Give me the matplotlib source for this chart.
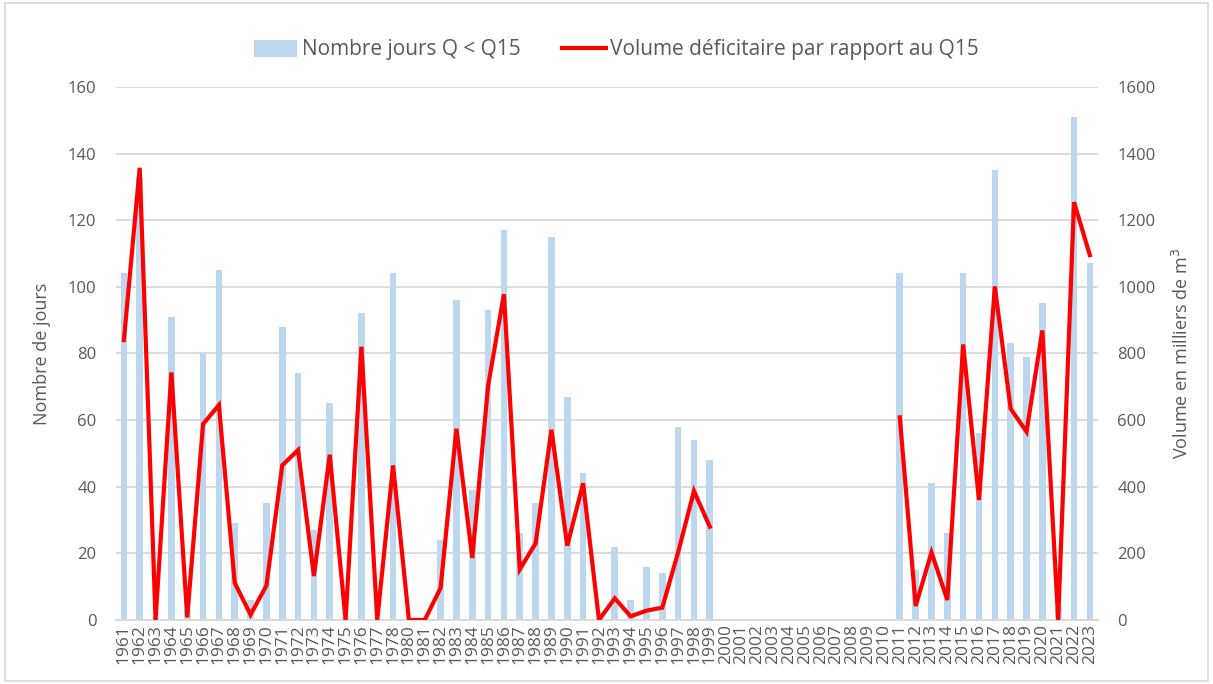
import matplotlib
matplotlib.use("Agg")
import matplotlib.pyplot as plt
import numpy as np
from matplotlib.patches import Patch, Rectangle
from matplotlib.lines import Line2D

plt.rcParams['font.family'] = ['Open Sans', 'DejaVu Sans']

years = ["1961", "1962", "1963", "1964", "1965", "1966", "1967", "1968", "1969", "1970",
         "1971", "1972", "1973", "1974", "1975", "1976", "1977", "1978", "1980", "1981",
         "1982", "1983", "1984", "1985", "1986", "1987", "1988", "1989", "1990", "1991",
         "1992", "1993", "1994", "1995", "1996", "1997", "1998", "1999", "2000", "2001",
         "2002", "2003", "2004", "2005", "2006", "2007", "2008", "2009", "2010", "2011",
         "2012", "2013", "2014", "2015", "2016", "2017", "2018", "2019", "2020", "2021",
         "2022", "2023"]

nb_jours = [104, 133, 1, 91, 3, 80, 105, 29, 6, 35,
            88, 74, 27, 65, 1, 92, 0, 104, 0, 0,
            24, 96, 39, 93, 117, 26, 35, 115, 67, 44,
            0, 22, 6, 16, 14, 58, 54, 48, None, None,
            None, None, None, None, None, None, None, None, None, 104,
            15, 41, 26, 104, 56, 135, 83, 79, 95, 4,
            151, 107]

volume = [840, 1357, 0, 743, 8, 588, 645, 111, 16, 103,
          464, 510, 132, 496, 0, 820, 0, 464, 0, 0,
          96, 574, 186, 703, 978, 152, 230, 571, 223, 410,
          0, 65, 11, 28, 37, 203, 387, 280, None, None,
          None, None, None, None, None, None, None, None, None, 608,
          42, 203, 60, 827, 360, 1001, 634, 565, 869, 0,
          1254, 1095]

days_arr = np.array([np.nan if v is None else v for v in nb_jours], dtype=float)
vol_arr = np.array([np.nan if v is None else v for v in volume], dtype=float)
x = np.arange(len(years))

bar_color = "#BDD7EE"
line_color = "#FF0000"
grid_color = "#D9D9D9"
text_color = "#595959"

fig = plt.figure(figsize=(12.13, 6.84), dpi=100)
ax = fig.add_axes([0.0956, 0.0936, 0.8094, 0.7794])
ax.set_axisbelow(True)
ax.bar(x, np.nan_to_num(days_arr), width=0.42, color=bar_color, zorder=2)
ax.set_ylim(0, 160)
ax.set_yticks(np.arange(0, 161, 20))
ax.set_xlim(-0.5, len(years) - 0.5)
ax.set_xticks(x)
ax.set_xticklabels(years, rotation=90, fontsize=12.5, color=text_color)
ax.yaxis.grid(True, color=grid_color, linewidth=1.3, zorder=0)
ax.tick_params(axis='y', length=0, labelsize=12, labelcolor=text_color, pad=14)
ax.tick_params(axis='x', length=0, pad=3)
for s in ["top", "right", "left"]:
    ax.spines[s].set_visible(False)
ax.spines["bottom"].set_color(grid_color)
ax.spines["bottom"].set_linewidth(1.3)
ax.set_ylabel("Nombre de jours", fontsize=13, color=text_color, labelpad=12)

ax2 = ax.twinx()
ax2.plot(x, vol_arr, color=line_color, linewidth=3.0, solid_joinstyle='miter', zorder=3)
ax2.set_ylim(0, 1600)
ax2.set_yticks(np.arange(0, 1601, 200))
ax2.tick_params(axis='y', length=0, labelsize=12, labelcolor=text_color, pad=14)
for s in ["top", "right", "left", "bottom"]:
    ax2.spines[s].set_visible(False)
ax2.set_ylabel("Volume en milliers de m$^3$", fontsize=13, color=text_color, labelpad=12)

handles = [Patch(facecolor=bar_color, edgecolor='none', label="Nombre jours Q < Q15"),
           Line2D([0], [0], color=line_color, linewidth=3.0, label="Volume déficitaire par rapport au Q15")]
fig.legend(handles=handles, loc='center', bbox_to_anchor=(0.508, 0.927), ncol=2, frameon=False,
           fontsize=15, labelcolor=text_color, handlelength=2.1, handleheight=0.9,
           handletextpad=0.2, columnspacing=2.0)

fig.patches.append(Rectangle((0.004, 0.004), 0.992, 0.992, transform=fig.transFigure,
                             fill=False, edgecolor=grid_color, linewidth=1.2))

fig.savefig("out.png", dpi=100)
